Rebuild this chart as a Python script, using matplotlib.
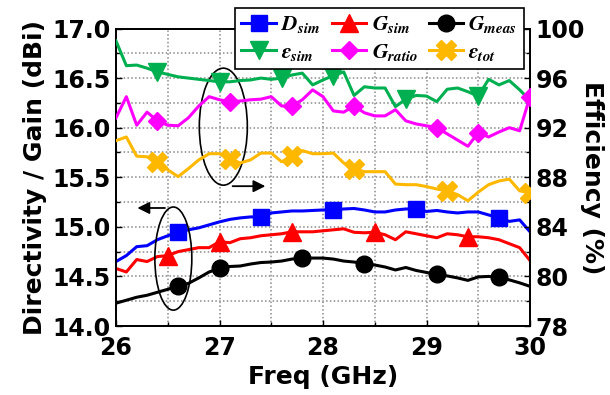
import numpy as np
import matplotlib
matplotlib.use("Agg")
import matplotlib.pyplot as plt
from matplotlib.patches import Ellipse

# ---------------- data ----------------
freq = np.linspace(26.0, 30.0, 41)  # GHz, 0.1 GHz step

d_sim = [14.65, 14.71, 14.80, 14.81, 14.87, 14.91, 14.95, 14.97, 14.99, 15.02,
         15.05, 15.075, 15.09, 15.10, 15.10, 15.14, 15.15, 15.16, 15.16, 15.165,
         15.17, 15.17, 15.18, 15.185, 15.17, 15.15, 15.15, 15.17, 15.18, 15.18,
         15.155, 15.165, 15.15, 15.14, 15.15, 15.15, 15.12, 15.09, 15.055, 15.07,
         14.95]
g_sim = [14.58, 14.545, 14.67, 14.65, 14.70, 14.71, 14.75, 14.77, 14.79, 14.79,
         14.85, 14.84, 14.88, 14.89, 14.91, 14.92, 14.93, 14.95, 14.95, 14.95,
         14.96, 14.97, 14.98, 14.945, 14.94, 14.945, 14.92, 14.87, 14.95, 14.93,
         14.91, 14.89, 14.93, 14.92, 14.90, 14.90, 14.89, 14.87, 14.83, 14.79,
         14.66]
g_meas = [14.23, 14.26, 14.29, 14.31, 14.34, 14.37, 14.40, 14.43, 14.485, 14.545,
          14.58, 14.60, 14.605, 14.625, 14.64, 14.645, 14.655, 14.675, 14.685, 14.685,
          14.685, 14.675, 14.655, 14.645, 14.63, 14.615, 14.595, 14.565, 14.59, 14.56,
          14.54, 14.52, 14.505, 14.485, 14.46, 14.495, 14.50, 14.495, 14.465, 14.435,
          14.40]
eps_sim = [99.0, 97.0, 97.05, 96.8, 96.5, 96.3, 96.1, 96.0, 95.9, 95.8,
           95.7, 95.7, 95.8, 95.85, 96.0, 95.9, 96.0, 96.25, 96.4, 95.45,
           95.85, 96.2, 96.5, 94.6, 95.3, 95.2, 95.2, 93.7, 94.3, 94.6,
           94.55, 94.1, 95.1, 95.2, 94.9, 94.55, 95.9, 95.45, 95.8, 95.05,
           94.2]
g_ratio = [92.8, 94.5, 92.2, 93.25, 92.55, 92.2, 92.15, 92.8, 93.75, 94.5,
           94.25, 94.1, 94.15, 94.25, 94.3, 94.5, 93.75, 93.75, 94.25, 95.05,
           94.5, 93.35, 93.25, 93.75, 93.2, 92.95, 92.95, 93.45, 92.55, 92.3,
           92.15, 92.0, 91.5, 91.0, 90.5, 91.6, 91.25, 91.65, 92.0, 91.75,
           94.5]
eps_tot = [90.95, 91.25, 89.7, 89.65, 89.25, 88.6, 88.05, 88.7, 89.4, 89.9,
           89.9, 89.5, 89.15, 89.4, 89.95, 89.95, 89.25, 89.7, 90.15, 89.9,
           89.9, 89.95, 89.15, 88.7, 88.45, 88.45, 88.45, 87.45, 87.4, 87.4,
           87.25, 87.05, 86.9, 86.6, 86.1, 86.8, 87.4, 87.7, 87.85, 86.9,
           86.75]

# indices of samples that carry a marker
mk_d_sim = [6, 14, 21, 29, 37]
mk_g_sim = [5, 10, 17, 25, 34]
mk_g_meas = [6, 10, 18, 24, 31, 37]
mk_eps_sim = [4, 10, 16, 21, 28, 35]
mk_g_ratio = [4, 11, 17, 23, 31, 35, 40]
mk_eps_tot = [4, 11, 17, 23, 32, 40]

x_ticks = [26, 27, 28, 29, 30]
left_ticks = [14.0, 14.5, 15.0, 15.5, 16.0, 16.5, 17.0]
right_ticks = [76, 80, 84, 88, 92, 96, 100]
right_tick_labels = ["78", "80", "84", "88", "92", "96", "100"]

# ---------------- styling ----------------
plt.rcParams["font.family"] = ["DejaVu Sans"]
plt.rcParams["font.weight"] = "bold"
plt.rcParams["mathtext.fontset"] = "stix"

fig = plt.figure(figsize=(6.1, 3.95), dpi=100)
ax = fig.add_axes([116 / 610, 1 - 326 / 395, (530 - 116) / 610, (326 - 28.5) / 395])
ax2 = ax.twinx()

lw = 2.2
mew = 1.0
h1, = ax.plot(freq, d_sim, color="#0000FF", lw=lw, marker="s", ms=12,
              markevery=mk_d_sim, mew=mew, label=r"$\mathbfit{D}_{\mathbfit{sim}}$", zorder=3)
h2, = ax.plot(freq, g_sim, color="#FF0000", lw=lw, marker="^", ms=13,
              markevery=mk_g_sim, mew=mew, label=r"$\mathbfit{G}_{\mathbfit{sim}}$", zorder=3)
h3, = ax.plot(freq, g_meas, color="black", lw=lw, marker="o", ms=12,
              markevery=mk_g_meas, mew=mew, label=r"$\mathbfit{G}_{\mathbfit{meas}}$", zorder=3)
h4, = ax2.plot(freq, eps_sim, color="#00B050", lw=lw, marker="v", ms=13,
               markevery=mk_eps_sim, mew=mew, label=r"$\varepsilon_{\mathbfit{sim}}$", zorder=3)
h5, = ax2.plot(freq, g_ratio, color="#FF00FF", lw=lw, marker="D", ms=9,
               markevery=mk_g_ratio, mew=mew, label=r"$\mathbfit{G}_{\mathbfit{ratio}}$", zorder=3)
h6, = ax2.plot(freq, eps_tot, color="#FFB800", lw=lw, marker="X", ms=14,
               markevery=mk_eps_tot, mew=mew, label=r"$\varepsilon_{\mathbfit{tot}}$", zorder=3)

ax.set_xlim(26, 30)
ax.set_ylim(14.0, 17.0)
ax2.set_ylim(76, 100)

ax.set_xticks(x_ticks)
ax.set_xticks(np.arange(26, 30.01, 0.5), minor=True)
ax.set_yticks(left_ticks)
ax.set_yticks(np.arange(14.0, 17.01, 0.25), minor=True)
ax.set_yticklabels([f"{v:.1f}" for v in left_ticks])
ax2.set_yticks(right_ticks)
ax2.set_yticklabels(right_tick_labels)
ax2.set_yticks(np.arange(76, 100.1, 2), minor=True)

ax.grid(True, which="both", color="#8a8a8a", linestyle=(0, (1, 1.5)), lw=1.1)
ax.set_axisbelow(True)

for a in (ax, ax2):
    a.tick_params(axis="both", which="both", direction="in", labelsize=17)
    a.tick_params(axis="both", which="major", length=4, width=1.0)
    a.tick_params(axis="both", which="minor", length=3, width=1.0)
    for sp in a.spines.values():
        sp.set_linewidth(1.3)
ax.tick_params(axis="x", pad=7)
ax.tick_params(axis="y", pad=4)
ax2.tick_params(axis="y", pad=4)

ax.set_xlabel("Freq (GHz)", fontsize=18, fontweight="bold", labelpad=4)
ax.set_ylabel("Directivity / Gain (dBi)", fontsize=18, fontweight="bold", labelpad=4)
ax2.set_ylabel("Efficiency (%)", fontsize=18, fontweight="bold", rotation=270, labelpad=14)

# ellipses and arrows
ax.add_patch(Ellipse((26.554, 14.68), 0.357, 1.04, fill=False, ec="black", lw=1.2, zorder=4))
ax.add_patch(Ellipse((27.037, 16.01), 0.464, 1.18, fill=False, ec="black", lw=1.2, zorder=4))
ax.annotate("", xy=(26.18, 15.19), xytext=(26.5, 15.19),
            arrowprops=dict(arrowstyle="-|>", color="black", lw=1.3, mutation_scale=18), zorder=4)
ax.annotate("", xy=(27.47, 15.41), xytext=(27.1, 15.41),
            arrowprops=dict(arrowstyle="-|>", color="black", lw=1.3, mutation_scale=18), zorder=4)

leg = fig.legend(handles=[h1, h4, h2, h5, h3, h6], ncol=3, loc="upper left",
                 bbox_to_anchor=(235 / 610, 1 - 8 / 395), frameon=True, fancybox=False,
                 edgecolor="black", framealpha=1, fontsize=15.5, handlelength=1.6,
                 handletextpad=0.25, columnspacing=0.5, borderpad=0.3, labelspacing=0.3,
                 borderaxespad=0)
leg.get_frame().set_linewidth(1.2)

fig.savefig("out.png", dpi=100)
